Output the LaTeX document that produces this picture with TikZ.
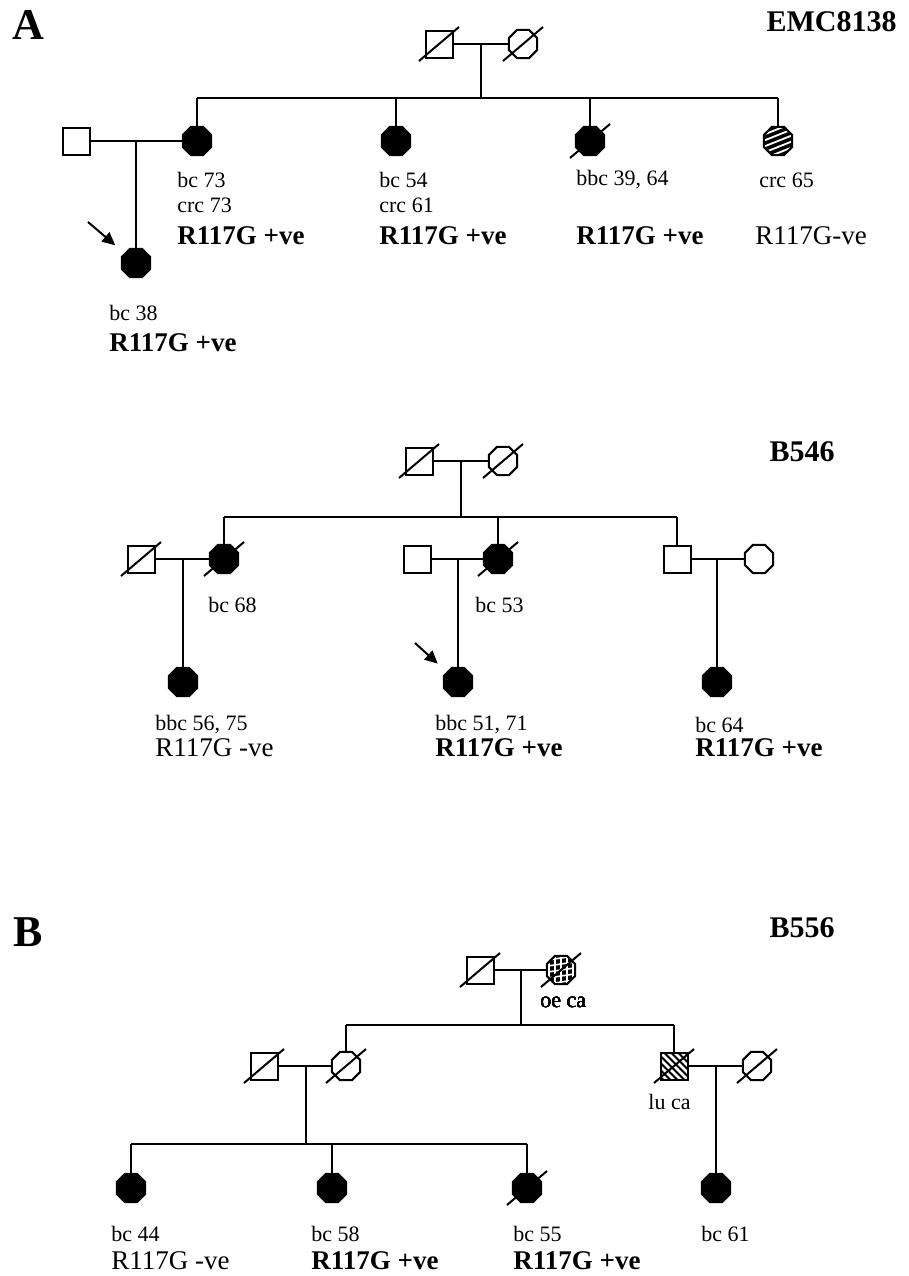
\documentclass[tikz,border=0pt]{standalone}
\usepackage{fontspec}
\setmainfont{Liberation Serif}
\usetikzlibrary{arrows.meta,shapes.geometric}
\tikzset{x=0.5pt,y=-0.5pt,
  conn/.style={line width=1pt},
  male/.style={draw,line width=1pt,fill=white,minimum size=13.5pt,inner sep=0pt},
  female/.style={draw,line width=1pt,fill=white,regular polygon,regular polygon sides=8,minimum size=15.4pt,inner sep=0pt},
  aff/.style={fill=black},
  hatchline/.style={white,line width=0.9pt},
  crcfill/.style={fill=black,path picture={
    \foreach \i in {-24,-18,...,24}
      \draw[hatchline] ([shift={(-20,\i+8)}]path picture bounding box.center) -- ([shift={(20,\i-8)}]path picture bounding box.center);}},
  oefill/.style={fill=black,path picture={
    \foreach \i in {-18,-12,...,18}
      {\draw[hatchline,line width=0.8pt] ([shift={(-20,\i+3)}]path picture bounding box.center) -- ([shift={(20,\i-3)}]path picture bounding box.center);
       \draw[hatchline,line width=0.8pt] ([shift={(\i,-20)}]path picture bounding box.center) -- ([shift={(\i,20)}]path picture bounding box.center);}}},
  lufill/.style={fill=black,path picture={
    \foreach \i in {-35,-28,...,35}
      \draw[hatchline,line width=1.3pt] ([shift={(\i-20,-20)}]path picture bounding box.center) -- ([shift={(\i+20,20)}]path picture bounding box.center);}},
  lbl/.style={anchor=west,inner sep=0pt,font=\fontsize{11}{13}\selectfont},
  posgt/.style={anchor=west,inner sep=0pt,font=\fontsize{13.5}{15}\selectfont\bfseries},
  neggt/.style={anchor=west,inner sep=0pt,font=\fontsize{13.5}{15}\selectfont},
  fam/.style={anchor=east,inner sep=0pt,font=\fontsize{15}{17}\selectfont\bfseries},
  panel/.style={inner sep=0pt,font=\fontsize{22}{24}\selectfont\bfseries},
  arr/.style={-{Triangle[length=6.5pt,width=6pt]},line width=1pt,shorten >=6pt},
  dead/.style={line width=1pt}}
\newcommand{\deceased}[1]{\draw[dead] ([shift={(-20,17)}]#1.center) -- ([shift={(20,-17)}]#1.center);}

\begin{document}
\begin{tikzpicture}
\useasboundingbox (0,0) rectangle (909,1276);
% family EMC8138
\node[panel] (pA) at (28,25) {A};
\node[fam] (fA) at (897,22) {EMC8138};
\node[male] (gfA) at (439,44) {};
\node[female] (gmA) at (523,44) {};
\coordinate (sibA) at (481,98);
\node[male] (spA) at (76,141) {};
\node[female,aff] (a1) at (197,141) {};
\node[female,aff] (a2) at (396,141) {};
\node[female,aff] (a3) at (590,141) {};
\node[female,crcfill] (a4) at (778,141) {};
\node[female,aff] (a5) at (136,263) {};
\draw[conn] (gfA) -- (gmA);
\draw[conn] (sibA |- gfA) -- (sibA);
\draw[conn] (a1 |- sibA) -- (a4 |- sibA);
\foreach \c in {a1,a2,a3,a4} \draw[conn] (\c) -- (\c |- sibA);
\draw[conn] (spA) -- (a1);
\draw[conn] (a5) -- (a5 |- a1);
\foreach \c in {gfA,gmA,a3} \deceased{\c}
\coordinate (tA) at (88,222);
\draw[arr] (tA) -- (a5);
\node[lbl] (la1) at (177,180) {bc 73};
\node[lbl] (la1b) at (177,205) {crc 73};
\node[posgt] (ga1) at (177,236) {R117G +ve};
\node[lbl] (la2) at (379,180) {bc 54};
\node[lbl] (la2b) at (379,205) {crc 61};
\node[posgt] (ga2) at (379,236) {R117G +ve};
\node[lbl] (la3) at (576,180) {bbc 39, 64};
\node[posgt] (ga3) at (576,236) {R117G +ve};
\node[lbl] (la4) at (759,180) {crc 65};
\node[neggt] (ga4) at (755,236) {R117G-ve};
\node[lbl] (la5) at (109,313) {bc 38};
\node[posgt] (ga5) at (109,343) {R117G +ve};
% family B546
\node[fam] (fB) at (835,452) {B546};
\node[male] (gfB) at (419,461) {};
\node[female] (gmB) at (503,461) {};
\coordinate (sibB) at (461,517);
\node[male] (b1) at (141,559) {};
\node[female,aff] (b2) at (224,559) {};
\node[male] (b3) at (417,559) {};
\node[female,aff] (b4) at (498,559) {};
\node[male] (b5) at (677,559) {};
\node[female] (b6) at (759,559) {};
\node[female,aff] (b7) at (183,682) {};
\node[female,aff] (b8) at (458,682) {};
\node[female,aff] (b9) at (717,682) {};
\draw[conn] (gfB) -- (gmB);
\draw[conn] (sibB |- gfB) -- (sibB);
\draw[conn] (b2 |- sibB) -- (b5 |- sibB);
\foreach \c in {b2,b4,b5} \draw[conn] (\c) -- (\c |- sibB);
\draw[conn] (b1) -- (b2);
\draw[conn] (b3) -- (b4);
\draw[conn] (b5) -- (b6);
\foreach \c in {b7,b8,b9} \draw[conn] (\c) -- (\c |- b1);
\foreach \c in {gfB,gmB,b1,b2,b4} \deceased{\c}
\coordinate (tB) at (415,643);
\draw[arr] (tB) -- (b8);
\node[lbl] (lb2) at (208,605) {bc 68};
\node[lbl] (lb4) at (475,605) {bc 53};
\node[lbl] (lb7) at (155,725) {bbc 56, 75};
\node[neggt] (gb7) at (155,748) {R117G -ve};
\node[lbl] (lb8) at (435,725) {bbc 51, 71};
\node[posgt] (gb8) at (435,748) {R117G +ve};
\node[lbl] (lb9) at (695,725) {bc 64};
\node[posgt] (gb9) at (695,748) {R117G +ve};
% family B556
\node[panel] (pB) at (28,932) {B};
\node[fam] (fC) at (835,928) {B556};
\node[male] (gfC) at (480,970) {};
\node[female,oefill] (gmC) at (561,970) {};
\coordinate (sibC) at (521,1025);
\node[male] (c1) at (264,1066) {};
\node[female] (c2) at (346,1066) {};
\node[male,lufill] (c3) at (674,1066) {};
\node[female] (c4) at (757,1066) {};
\coordinate (sibD) at (306,1144);
\node[female,aff] (d1) at (131,1188) {};
\node[female,aff] (d2) at (332,1188) {};
\node[female,aff] (d3) at (527,1188) {};
\node[female,aff] (d4) at (716,1188) {};
\draw[conn] (gfC) -- (gmC);
\draw[conn] (sibC |- gfC) -- (sibC);
\draw[conn] (c2 |- sibC) -- (c3 |- sibC);
\foreach \c in {c2,c3} \draw[conn] (\c) -- (\c |- sibC);
\draw[conn] (c1) -- (c2);
\draw[conn] (c3) -- (c4);
\draw[conn] (sibD |- c1) -- (sibD);
\draw[conn] (d1 |- sibD) -- (d3 |- sibD);
\foreach \c in {d1,d2,d3} \draw[conn] (\c) -- (\c |- sibD);
\draw[conn] (d4) -- (d4 |- c3);
\foreach \c in {gfC,gmC,c1,c2,c3,c4,d3} \deceased{\c}
\node[lbl] (lgm) at (540,1002) {oe ca};
\node[lbl] (lc3) at (648,1102) {lu ca};
\node[lbl] (ld1) at (111,1234) {bc 44};
\node[neggt] (gd1) at (111,1261) {R117G -ve};
\node[lbl] (ld2) at (311,1234) {bc 58};
\node[posgt] (gd2) at (311,1261) {R117G +ve};
\node[lbl] (ld3) at (513,1234) {bc 55};
\node[posgt] (gd3) at (513,1261) {R117G +ve};
\node[lbl] (ld4) at (701,1234) {bc 61};
\end{tikzpicture}
\end{document}
